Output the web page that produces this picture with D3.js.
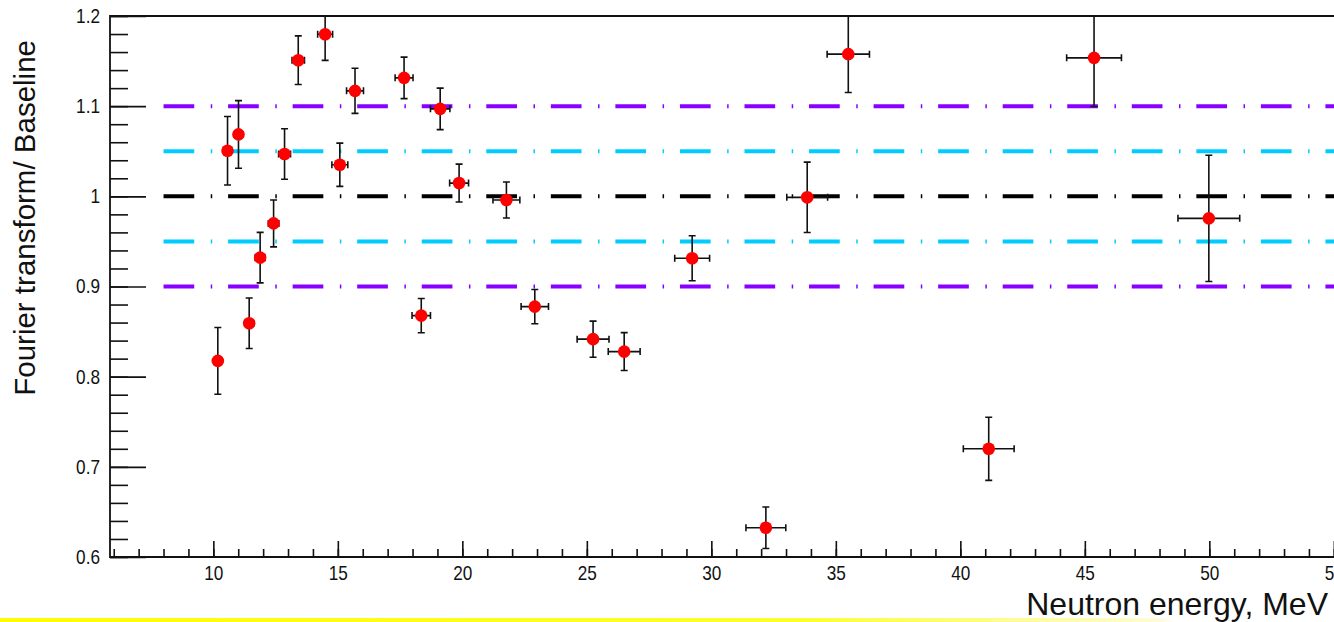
<!DOCTYPE html>
<html>
<head>
<meta charset="utf-8">
<script src="https://cdn.jsdelivr.net/npm/d3@7"></script>
<style>
  body { margin: 0; background: #fff; }
  svg { display: block; font-family: "Liberation Sans", Arial, sans-serif; }
</style>
</head>
<body>
<div id="main"></div>
<script>
// points
const energy    = [10.18, 10.57, 11.01, 11.44, 11.88, 12.42, 12.86, 13.41, 14.49, 15.08, 15.69, 17.66, 18.35,
                   19.11, 19.87, 21.77, 22.91, 25.25, 26.5, 29.23, 32.19, 33.85, 35.5, 41.14, 45.37, 49.98];
const energyErr = [0.15, 0.16, 0.17, 0.18, 0.2, 0.21, 0.24, 0.25, 0.3, 0.32, 0.34, 0.36, 0.37,
                   0.39, 0.38, 0.54, 0.55, 0.64, 0.64, 0.7, 0.8, 0.82, 0.85, 1.02, 1.1, 1.24];
const ratio     = [0.8175, 1.0505, 1.0687, 0.8593, 0.932, 0.970, 1.0469, 1.151, 1.1798, 1.035, 1.117, 1.1314, 0.8677,
                   1.097, 1.0147, 0.9959, 0.8777, 0.8416, 0.8278, 0.9313, 0.6325, 0.9989, 1.1577, 0.720, 1.1536, 0.9756];
const ratioErr  = [0.037, 0.038, 0.0375, 0.028, 0.028, 0.026, 0.028, 0.027, 0.029, 0.024, 0.025, 0.023, 0.019,
                   0.023, 0.021, 0.020, 0.019, 0.020, 0.021, 0.025, 0.023, 0.039, 0.0425, 0.035, 0.054, 0.070];

// reference lines
const refLevels = [1.1, 1.05, 1.0, 0.95, 0.9];
const refColors = ["#8800ff", "#00ccff", "#000000", "#00ccff", "#8800ff"];
const refStart = 8;

const xMajor = [10, 15, 20, 25, 30, 35, 40, 45, 50, 55];
const xMinor = d3.range(6, 57, 1);
const yMajor = [0.6, 0.7, 0.8, 0.9, 1.0, 1.1, 1.2];
const yMinor = d3.range(0, 31).map(i => +(0.6 + i * 0.02).toFixed(2));

const xTitle = "Neutron energy, MeV";
const yTitle = "Fourier transform/ Baseline";

const ctx = { width: 1334, height: 622, left: 110, top: 16, bottom: 557, pxPerMeV: 24.9 };

const svg = d3.select("#main").append("svg")
  .attr("width", ctx.width)
  .attr("height", ctx.height);

// yellow slide strip along the bottom
const grad = svg.append("defs").append("linearGradient")
  .attr("id", "strip").attr("x1", "0").attr("x2", "1").attr("y1", "0").attr("y2", "0");
grad.append("stop").attr("offset", "0").attr("stop-color", "#ffff00");
grad.append("stop").attr("offset", "0.6").attr("stop-color", "#ffff30");
grad.append("stop").attr("offset", "0.87").attr("stop-color", "#fffbd8");
grad.append("stop").attr("offset", "0.88").attr("stop-color", "#ffffff");
svg.append("rect").attr("x", 0).attr("y", 618).attr("width", ctx.width).attr("height", 4)
  .attr("fill", "url(#strip)");

const xMin = 5.85, xMax = 56.5;
const x = d3.scaleLinear().domain([xMin, xMax])
  .range([ctx.left, ctx.left + (xMax - xMin) * ctx.pxPerMeV]);
const y = d3.scaleLinear().domain([0.6, 1.2]).range([ctx.bottom, ctx.top]);

svg.select("defs").append("clipPath").attr("id", "plot")
  .append("rect").attr("x", ctx.left).attr("y", ctx.top)
  .attr("width", x(xMax) - ctx.left).attr("height", ctx.bottom - ctx.top);

const plot = svg.append("g").attr("clip-path", "url(#plot)");

// dash-dot reference lines
plot.selectAll("line.ref")
  .data(refLevels)
  .enter().append("line")
  .attr("class", "ref")
  .attr("x1", x(refStart)).attr("x2", x(xMax))
  .attr("y1", d => y(d)).attr("y2", d => y(d))
  .attr("stroke", (d, i) => refColors[i])
  .attr("stroke-width", 4)
  .attr("stroke-dasharray", "30.7 16.5 1.5 15.85");

const pts = energy.map((e, i) => ({ e: e, de: energyErr[i], r: ratio[i], dr: ratioErr[i] }));

// error bars
const bars = plot.append("g").attr("stroke", "#111").attr("stroke-width", 1.6).attr("fill", "none");
const cap = 3.5;
pts.forEach(function(d) {
  let cx = x(d.e), cy = y(d.r);
  let t = y(d.r + d.dr), b = y(d.r - d.dr), l = x(d.e - d.de), r = x(d.e + d.de);
  bars.append("path").attr("d",
    "M" + cx + "," + t + "V" + b +
    "M" + (cx - cap) + "," + t + "H" + (cx + cap) +
    "M" + (cx - cap) + "," + b + "H" + (cx + cap) +
    "M" + l + "," + cy + "H" + r +
    "M" + l + "," + (cy - cap) + "V" + (cy + cap) +
    "M" + r + "," + (cy - cap) + "V" + (cy + cap));
});

plot.selectAll("circle")
  .data(pts)
  .enter().append("circle")
  .attr("cx", d => x(d.e))
  .attr("cy", d => y(d.r))
  .attr("r", 6.3)
  .attr("fill", "#ff0000");

// axes
const sx = 0.86;
function styleTicks(g) {
  g.select(".domain").remove();
  g.selectAll("line").attr("stroke", "#111").attr("stroke-width", 1.6);
}

const yAxisMinor = svg.append("g").attr("transform", "translate(" + ctx.left + ",0)")
  .call(d3.axisLeft(y).tickValues(yMinor).tickSize(-18).tickFormat(""));
styleTicks(yAxisMinor);

const yAxis = svg.append("g").attr("transform", "translate(" + ctx.left + ",0)")
  .call(d3.axisLeft(y).tickValues(yMajor).tickSize(-36).tickPadding(10)
    .tickFormat(d => d3.format("")(+d.toFixed(1))));
styleTicks(yAxis);
yAxis.selectAll("text")
  .attr("font-size", 20).attr("fill", "#111")
  .attr("x", -10 / sx)
  .attr("transform", "scale(" + sx + ",1)");

const xAxisMinor = svg.append("g").attr("transform", "translate(0," + ctx.bottom + ")")
  .call(d3.axisBottom(x).tickValues(xMinor).tickSize(-8).tickFormat(""));
styleTicks(xAxisMinor);

const xAxis = svg.append("g").attr("transform", "translate(0," + ctx.bottom + ")")
  .call(d3.axisBottom(x).tickValues(xMajor).tickSize(-16).tickPadding(9));
styleTicks(xAxis);
xAxis.selectAll("text")
  .attr("font-size", 20).attr("fill", "#111")
  .attr("transform", "scale(" + sx + ",1)");

// frame
svg.append("path")
  .attr("d", "M" + x(xMax) + "," + ctx.top + "H" + ctx.left + "V" + ctx.bottom + "H" + x(xMax))
  .attr("fill", "none").attr("stroke", "#111").attr("stroke-width", 1.8);

// titles
svg.append("text")
  .attr("x", 1328).attr("y", 615)
  .attr("text-anchor", "end")
  .attr("font-size", 32)
  .attr("fill", "#111")
  .text(xTitle);

svg.append("text")
  .attr("transform", "translate(35,40) rotate(-90)")
  .attr("text-anchor", "end")
  .attr("font-size", 29.5)
  .attr("fill", "#111")
  .text(yTitle);
</script>
</body>
</html>
